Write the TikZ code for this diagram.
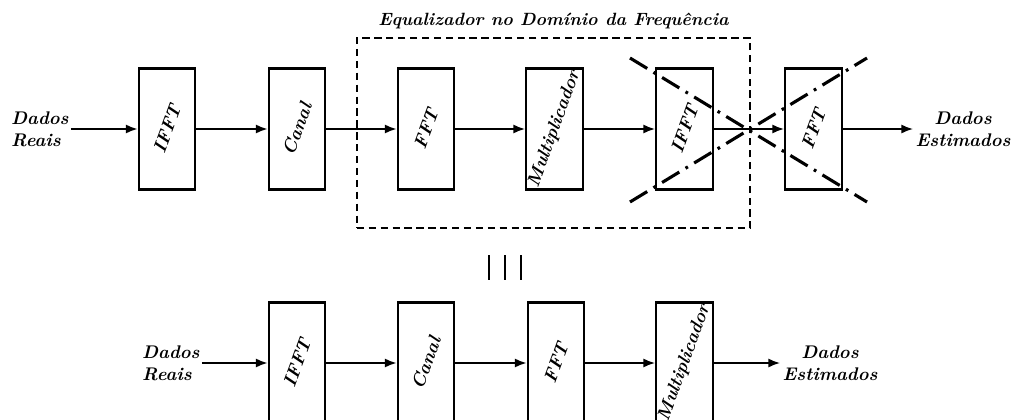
\documentclass[tikz,border=0pt]{standalone}
\usepackage{fontspec}
\usetikzlibrary{arrows.meta, positioning}

\begin{document}
\begin{tikzpicture}[
    x=0.0192cm, y=0.0192cm,
    block/.style={rectangle, draw, line width=1.2pt, minimum width=1.08cm, minimum height=2.32cm, inner sep=0pt},
    txt/.style={font=\bfseries\itshape, inner sep=1pt},
    arrow/.style={-{Latex[length=6.5pt, width=5pt]}, line width=1.2pt},
    group/.style={rectangle, draw, dash pattern=on 4pt off 2.5pt, line width=1pt, minimum width=7.55cm, minimum height=3.65cm},
    cross/.style={line width=1.7pt, dash pattern=on 11pt off 4pt on 1.5pt off 4pt}
]
\useasboundingbox (0,0) rectangle (1017,419);

% primeira linha
\node[txt, align=left, anchor=west] (in1) at (9,290) {Dados\\Reais};
\node[block, label={[txt, rotate=70]center:IFFT}] (ifftA) at (167,290) {};
\node[block, label={[txt, rotate=70]center:Canal}] (canalA) at (297,290) {};
\node[block, label={[txt, rotate=70]center:FFT}] (fftA) at (426,290) {};
\node[block, label={[txt, rotate=70]center:Multiplicador}] (multA) at (554.5,290) {};
\node[block, label={[txt, rotate=70]center:IFFT}] (ifftB) at (684.5,290) {};
\node[block, label={[txt, rotate=70]center:FFT}] (fftB) at (813.5,290) {};
\node[txt, align=center] (out1) at (963,290) {Dados\\Estimados};
\draw[arrow] (in1) -- (ifftA);
\draw[arrow] (ifftA) -- (canalA);
\draw[arrow] (canalA) -- (fftA);
\draw[arrow] (fftA) -- (multA);
\draw[arrow] (multA) -- (ifftB);
\draw[arrow] (ifftB) -- (fftB);
\draw[arrow] (fftB) -- (out1);

% equalizador
\node[group] (eq) at (553.5,286) {};
\node[txt, font=\fontsize{9.7}{11}\bfseries\itshape, above=3pt of eq] (eqtitle) {Equalizador no Domínio da Frequência};

% blocos cancelados
\coordinate (xa1) at (630,361);
\coordinate (xa2) at (867,217);
\coordinate (xb1) at (630,217);
\coordinate (xb2) at (867,361);
\draw[cross] (xa1) -- (xa2);
\draw[cross] (xb1) -- (xb2);

% equivalencia
\foreach \x in {489,505,521}
    \draw[line width=1.2pt] (\x,164) -- (\x,139);

% segunda linha
\node[txt, align=left, anchor=west] (in2) at (140,56) {Dados\\Reais};
\node[block, label={[txt, rotate=70]center:IFFT}] (ifftC) at (297,56) {};
\node[block, label={[txt, rotate=70]center:Canal}] (canalC) at (426,56) {};
\node[block, label={[txt, rotate=70]center:FFT}] (fftC) at (556,56) {};
\node[block, label={[txt, rotate=70]center:Multiplicador}] (multC) at (684.5,56) {};
\node[txt, align=center] (out2) at (830,56) {Dados\\Estimados};
\draw[arrow] (in2) -- (ifftC);
\draw[arrow] (ifftC) -- (canalC);
\draw[arrow] (canalC) -- (fftC);
\draw[arrow] (fftC) -- (multC);
\draw[arrow] (multC) -- (out2);
\end{tikzpicture}
\end{document}
